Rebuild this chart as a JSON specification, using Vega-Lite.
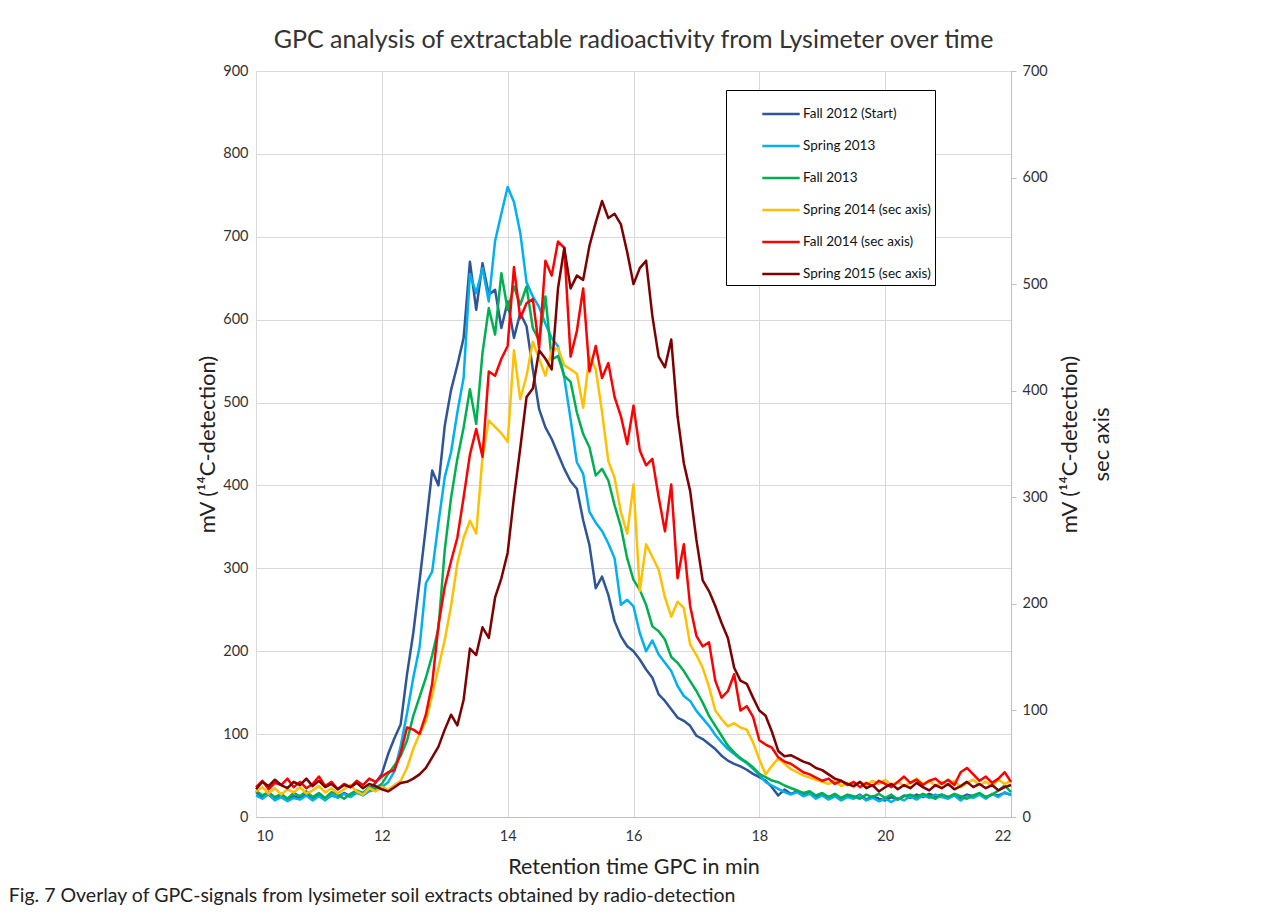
{
"$schema": "https://vega.github.io/schema/vega-lite/v6.json",
"background": "white",
"padding": {"left": 8, "top": 28, "right": 5, "bottom": 5},
"config": {"font": "Lato", "view": {"stroke": null}},
"title": {"text": "Fig. 7  Overlay of GPC-signals from lysimeter soil extracts obtained by radio-detection", "orient": "bottom", "anchor": "start", "frame": "bounds", "dx": -188, "fontSize": 19.5, "fontWeight": "normal", "font": "Liberation Sans Narrow, Lato", "color": "#222", "offset": 9},
"datasets": {
"fall2012": [{"t":10.0,"mV":30},{"t":10.1,"mV":24},{"t":10.2,"mV":27},{"t":10.3,"mV":21},{"t":10.4,"mV":26},{"t":10.5,"mV":20},{"t":10.6,"mV":25},{"t":10.7,"mV":22},{"t":10.8,"mV":28},{"t":10.9,"mV":23},{"t":11.0,"mV":27},{"t":11.1,"mV":21},{"t":11.2,"mV":26},{"t":11.3,"mV":24},{"t":11.4,"mV":29},{"t":11.5,"mV":25},{"t":11.6,"mV":30},{"t":11.7,"mV":28},{"t":11.8,"mV":34},{"t":11.9,"mV":41},{"t":12.0,"mV":52},{"t":12.1,"mV":76},{"t":12.2,"mV":95},{"t":12.3,"mV":112},{"t":12.4,"mV":172},{"t":12.5,"mV":222},{"t":12.6,"mV":285},{"t":12.7,"mV":350},{"t":12.8,"mV":418},{"t":12.9,"mV":400},{"t":13.0,"mV":472},{"t":13.1,"mV":515},{"t":13.2,"mV":545},{"t":13.3,"mV":578},{"t":13.4,"mV":670},{"t":13.5,"mV":612},{"t":13.6,"mV":668},{"t":13.7,"mV":630},{"t":13.8,"mV":636},{"t":13.9,"mV":590},{"t":14.0,"mV":622},{"t":14.1,"mV":578},{"t":14.2,"mV":608},{"t":14.3,"mV":592},{"t":14.4,"mV":540},{"t":14.5,"mV":492},{"t":14.6,"mV":470},{"t":14.7,"mV":456},{"t":14.8,"mV":438},{"t":14.9,"mV":420},{"t":15.0,"mV":405},{"t":15.1,"mV":396},{"t":15.2,"mV":358},{"t":15.3,"mV":328},{"t":15.4,"mV":276},{"t":15.5,"mV":290},{"t":15.6,"mV":268},{"t":15.7,"mV":236},{"t":15.8,"mV":218},{"t":15.9,"mV":206},{"t":16.0,"mV":200},{"t":16.1,"mV":190},{"t":16.2,"mV":178},{"t":16.3,"mV":168},{"t":16.4,"mV":148},{"t":16.5,"mV":140},{"t":16.6,"mV":130},{"t":16.7,"mV":120},{"t":16.8,"mV":116},{"t":16.9,"mV":110},{"t":17.0,"mV":98},{"t":17.1,"mV":94},{"t":17.2,"mV":88},{"t":17.3,"mV":82},{"t":17.4,"mV":74},{"t":17.5,"mV":68},{"t":17.6,"mV":64},{"t":17.7,"mV":61},{"t":17.8,"mV":57},{"t":17.9,"mV":52},{"t":18.0,"mV":48},{"t":18.1,"mV":44},{"t":18.2,"mV":36},{"t":18.3,"mV":26},{"t":18.4,"mV":33},{"t":18.5,"mV":28},{"t":18.6,"mV":31},{"t":18.7,"mV":26},{"t":18.8,"mV":29},{"t":18.9,"mV":25},{"t":19.0,"mV":28},{"t":19.1,"mV":24},{"t":19.2,"mV":27},{"t":19.3,"mV":22},{"t":19.4,"mV":26},{"t":19.5,"mV":23},{"t":19.6,"mV":27},{"t":19.7,"mV":21},{"t":19.8,"mV":25},{"t":19.9,"mV":22},{"t":20.0,"mV":20},{"t":20.1,"mV":24},{"t":20.2,"mV":21},{"t":20.3,"mV":26},{"t":20.4,"mV":23},{"t":20.5,"mV":27},{"t":20.6,"mV":24},{"t":20.7,"mV":28},{"t":20.8,"mV":25},{"t":20.9,"mV":27},{"t":21.0,"mV":24},{"t":21.1,"mV":26},{"t":21.2,"mV":23},{"t":21.3,"mV":27},{"t":21.4,"mV":25},{"t":21.5,"mV":28},{"t":21.6,"mV":24},{"t":21.7,"mV":27},{"t":21.8,"mV":26},{"t":21.9,"mV":29},{"t":22.0,"mV":27}],
"spring2013": [{"t":10.0,"mV":26},{"t":10.1,"mV":22},{"t":10.2,"mV":28},{"t":10.3,"mV":20},{"t":10.4,"mV":24},{"t":10.5,"mV":19},{"t":10.6,"mV":23},{"t":10.7,"mV":21},{"t":10.8,"mV":26},{"t":10.9,"mV":20},{"t":11.0,"mV":25},{"t":11.1,"mV":20},{"t":11.2,"mV":27},{"t":11.3,"mV":23},{"t":11.4,"mV":28},{"t":11.5,"mV":24},{"t":11.6,"mV":29},{"t":11.7,"mV":26},{"t":11.8,"mV":31},{"t":11.9,"mV":33},{"t":12.0,"mV":36},{"t":12.1,"mV":42},{"t":12.2,"mV":55},{"t":12.3,"mV":86},{"t":12.4,"mV":125},{"t":12.5,"mV":168},{"t":12.6,"mV":205},{"t":12.7,"mV":282},{"t":12.8,"mV":296},{"t":12.9,"mV":355},{"t":13.0,"mV":410},{"t":13.1,"mV":440},{"t":13.2,"mV":488},{"t":13.3,"mV":530},{"t":13.4,"mV":655},{"t":13.5,"mV":632},{"t":13.6,"mV":662},{"t":13.7,"mV":622},{"t":13.8,"mV":695},{"t":13.9,"mV":728},{"t":14.0,"mV":760},{"t":14.1,"mV":742},{"t":14.2,"mV":705},{"t":14.3,"mV":645},{"t":14.4,"mV":628},{"t":14.5,"mV":615},{"t":14.6,"mV":595},{"t":14.7,"mV":578},{"t":14.8,"mV":568},{"t":14.9,"mV":530},{"t":15.0,"mV":480},{"t":15.1,"mV":428},{"t":15.2,"mV":414},{"t":15.3,"mV":368},{"t":15.4,"mV":355},{"t":15.5,"mV":345},{"t":15.6,"mV":330},{"t":15.7,"mV":312},{"t":15.8,"mV":256},{"t":15.9,"mV":262},{"t":16.0,"mV":254},{"t":16.1,"mV":222},{"t":16.2,"mV":200},{"t":16.3,"mV":213},{"t":16.4,"mV":196},{"t":16.5,"mV":186},{"t":16.6,"mV":176},{"t":16.7,"mV":158},{"t":16.8,"mV":146},{"t":16.9,"mV":140},{"t":17.0,"mV":128},{"t":17.1,"mV":119},{"t":17.2,"mV":110},{"t":17.3,"mV":99},{"t":17.4,"mV":90},{"t":17.5,"mV":82},{"t":17.6,"mV":76},{"t":17.7,"mV":70},{"t":17.8,"mV":65},{"t":17.9,"mV":58},{"t":18.0,"mV":51},{"t":18.1,"mV":42},{"t":18.2,"mV":38},{"t":18.3,"mV":34},{"t":18.4,"mV":30},{"t":18.5,"mV":27},{"t":18.6,"mV":30},{"t":18.7,"mV":25},{"t":18.8,"mV":28},{"t":18.9,"mV":22},{"t":19.0,"mV":26},{"t":19.1,"mV":21},{"t":19.2,"mV":25},{"t":19.3,"mV":20},{"t":19.4,"mV":24},{"t":19.5,"mV":22},{"t":19.6,"mV":26},{"t":19.7,"mV":20},{"t":19.8,"mV":23},{"t":19.9,"mV":19},{"t":20.0,"mV":22},{"t":20.1,"mV":18},{"t":20.2,"mV":23},{"t":20.3,"mV":20},{"t":20.4,"mV":25},{"t":20.5,"mV":21},{"t":20.6,"mV":26},{"t":20.7,"mV":23},{"t":20.8,"mV":27},{"t":20.9,"mV":24},{"t":21.0,"mV":22},{"t":21.1,"mV":26},{"t":21.2,"mV":20},{"t":21.3,"mV":25},{"t":21.4,"mV":23},{"t":21.5,"mV":27},{"t":21.6,"mV":22},{"t":21.7,"mV":28},{"t":21.8,"mV":24},{"t":21.9,"mV":30},{"t":22.0,"mV":26}],
"fall2013": [{"t":10.0,"mV":32},{"t":10.1,"mV":26},{"t":10.2,"mV":30},{"t":10.3,"mV":24},{"t":10.4,"mV":28},{"t":10.5,"mV":22},{"t":10.6,"mV":29},{"t":10.7,"mV":25},{"t":10.8,"mV":31},{"t":10.9,"mV":24},{"t":11.0,"mV":29},{"t":11.1,"mV":23},{"t":11.2,"mV":30},{"t":11.3,"mV":27},{"t":11.4,"mV":22},{"t":11.5,"mV":28},{"t":11.6,"mV":32},{"t":11.7,"mV":29},{"t":11.8,"mV":36},{"t":11.9,"mV":35},{"t":12.0,"mV":40},{"t":12.1,"mV":52},{"t":12.2,"mV":62},{"t":12.3,"mV":74},{"t":12.4,"mV":92},{"t":12.5,"mV":122},{"t":12.6,"mV":145},{"t":12.7,"mV":168},{"t":12.8,"mV":195},{"t":12.9,"mV":228},{"t":13.0,"mV":322},{"t":13.1,"mV":385},{"t":13.2,"mV":432},{"t":13.3,"mV":470},{"t":13.4,"mV":516},{"t":13.5,"mV":474},{"t":13.6,"mV":560},{"t":13.7,"mV":614},{"t":13.8,"mV":582},{"t":13.9,"mV":656},{"t":14.0,"mV":612},{"t":14.1,"mV":640},{"t":14.2,"mV":618},{"t":14.3,"mV":640},{"t":14.4,"mV":590},{"t":14.5,"mV":575},{"t":14.6,"mV":628},{"t":14.7,"mV":552},{"t":14.8,"mV":556},{"t":14.9,"mV":532},{"t":15.0,"mV":525},{"t":15.1,"mV":488},{"t":15.2,"mV":462},{"t":15.3,"mV":446},{"t":15.4,"mV":412},{"t":15.5,"mV":420},{"t":15.6,"mV":406},{"t":15.7,"mV":376},{"t":15.8,"mV":350},{"t":15.9,"mV":312},{"t":16.0,"mV":286},{"t":16.1,"mV":274},{"t":16.2,"mV":256},{"t":16.3,"mV":230},{"t":16.4,"mV":224},{"t":16.5,"mV":214},{"t":16.6,"mV":193},{"t":16.7,"mV":186},{"t":16.8,"mV":176},{"t":16.9,"mV":164},{"t":17.0,"mV":152},{"t":17.1,"mV":138},{"t":17.2,"mV":122},{"t":17.3,"mV":110},{"t":17.4,"mV":98},{"t":17.5,"mV":86},{"t":17.6,"mV":78},{"t":17.7,"mV":71},{"t":17.8,"mV":66},{"t":17.9,"mV":60},{"t":18.0,"mV":52},{"t":18.1,"mV":48},{"t":18.2,"mV":44},{"t":18.3,"mV":42},{"t":18.4,"mV":38},{"t":18.5,"mV":35},{"t":18.6,"mV":32},{"t":18.7,"mV":29},{"t":18.8,"mV":31},{"t":18.9,"mV":26},{"t":19.0,"mV":29},{"t":19.1,"mV":24},{"t":19.2,"mV":28},{"t":19.3,"mV":23},{"t":19.4,"mV":27},{"t":19.5,"mV":25},{"t":19.6,"mV":22},{"t":19.7,"mV":27},{"t":19.8,"mV":24},{"t":19.9,"mV":28},{"t":20.0,"mV":23},{"t":20.1,"mV":27},{"t":20.2,"mV":21},{"t":20.3,"mV":25},{"t":20.4,"mV":27},{"t":20.5,"mV":24},{"t":20.6,"mV":28},{"t":20.7,"mV":25},{"t":20.8,"mV":22},{"t":20.9,"mV":27},{"t":21.0,"mV":24},{"t":21.1,"mV":28},{"t":21.2,"mV":25},{"t":21.3,"mV":22},{"t":21.4,"mV":26},{"t":21.5,"mV":29},{"t":21.6,"mV":24},{"t":21.7,"mV":27},{"t":21.8,"mV":32},{"t":21.9,"mV":38},{"t":22.0,"mV":30}],
"spring2014": [{"t":10.0,"mV":24},{"t":10.1,"mV":28},{"t":10.2,"mV":22},{"t":10.3,"mV":27},{"t":10.4,"mV":21},{"t":10.5,"mV":26},{"t":10.6,"mV":23},{"t":10.7,"mV":28},{"t":10.8,"mV":22},{"t":10.9,"mV":25},{"t":11.0,"mV":29},{"t":11.1,"mV":23},{"t":11.2,"mV":27},{"t":11.3,"mV":22},{"t":11.4,"mV":26},{"t":11.5,"mV":30},{"t":11.6,"mV":24},{"t":11.7,"mV":21},{"t":11.8,"mV":27},{"t":11.9,"mV":24},{"t":12.0,"mV":28},{"t":12.1,"mV":26},{"t":12.2,"mV":30},{"t":12.3,"mV":34},{"t":12.4,"mV":46},{"t":12.5,"mV":64},{"t":12.6,"mV":78},{"t":12.7,"mV":90},{"t":12.8,"mV":114},{"t":12.9,"mV":140},{"t":13.0,"mV":166},{"t":13.1,"mV":198},{"t":13.2,"mV":238},{"t":13.3,"mV":262},{"t":13.4,"mV":278},{"t":13.5,"mV":266},{"t":13.6,"mV":338},{"t":13.7,"mV":372},{"t":13.8,"mV":366},{"t":13.9,"mV":360},{"t":14.0,"mV":352},{"t":14.1,"mV":438},{"t":14.2,"mV":392},{"t":14.3,"mV":414},{"t":14.4,"mV":446},{"t":14.5,"mV":430},{"t":14.6,"mV":414},{"t":14.7,"mV":438},{"t":14.8,"mV":440},{"t":14.9,"mV":424},{"t":15.0,"mV":420},{"t":15.1,"mV":416},{"t":15.2,"mV":384},{"t":15.3,"mV":432},{"t":15.4,"mV":420},{"t":15.5,"mV":380},{"t":15.6,"mV":334},{"t":15.7,"mV":318},{"t":15.8,"mV":286},{"t":15.9,"mV":266},{"t":16.0,"mV":312},{"t":16.1,"mV":212},{"t":16.2,"mV":256},{"t":16.3,"mV":244},{"t":16.4,"mV":232},{"t":16.5,"mV":206},{"t":16.6,"mV":188},{"t":16.7,"mV":202},{"t":16.8,"mV":196},{"t":16.9,"mV":162},{"t":17.0,"mV":152},{"t":17.1,"mV":140},{"t":17.2,"mV":122},{"t":17.3,"mV":100},{"t":17.4,"mV":92},{"t":17.5,"mV":85},{"t":17.6,"mV":88},{"t":17.7,"mV":84},{"t":17.8,"mV":82},{"t":17.9,"mV":70},{"t":18.0,"mV":54},{"t":18.1,"mV":40},{"t":18.2,"mV":48},{"t":18.3,"mV":55},{"t":18.4,"mV":50},{"t":18.5,"mV":45},{"t":18.6,"mV":42},{"t":18.7,"mV":39},{"t":18.8,"mV":37},{"t":18.9,"mV":35},{"t":19.0,"mV":33},{"t":19.1,"mV":31},{"t":19.2,"mV":34},{"t":19.3,"mV":29},{"t":19.4,"mV":32},{"t":19.5,"mV":28},{"t":19.6,"mV":33},{"t":19.7,"mV":30},{"t":19.8,"mV":34},{"t":19.9,"mV":31},{"t":20.0,"mV":35},{"t":20.1,"mV":30},{"t":20.2,"mV":33},{"t":20.3,"mV":29},{"t":20.4,"mV":32},{"t":20.5,"mV":36},{"t":20.6,"mV":31},{"t":20.7,"mV":34},{"t":20.8,"mV":29},{"t":20.9,"mV":33},{"t":21.0,"mV":30},{"t":21.1,"mV":34},{"t":21.2,"mV":28},{"t":21.3,"mV":32},{"t":21.4,"mV":35},{"t":21.5,"mV":30},{"t":21.6,"mV":33},{"t":21.7,"mV":29},{"t":21.8,"mV":35},{"t":21.9,"mV":31},{"t":22.0,"mV":34}],
"fall2014": [{"t":10.0,"mV":28},{"t":10.1,"mV":34},{"t":10.2,"mV":26},{"t":10.3,"mV":32},{"t":10.4,"mV":30},{"t":10.5,"mV":36},{"t":10.6,"mV":28},{"t":10.7,"mV":33},{"t":10.8,"mV":27},{"t":10.9,"mV":31},{"t":11.0,"mV":38},{"t":11.1,"mV":29},{"t":11.2,"mV":33},{"t":11.3,"mV":26},{"t":11.4,"mV":31},{"t":11.5,"mV":28},{"t":11.6,"mV":34},{"t":11.7,"mV":30},{"t":11.8,"mV":36},{"t":11.9,"mV":33},{"t":12.0,"mV":38},{"t":12.1,"mV":42},{"t":12.2,"mV":44},{"t":12.3,"mV":60},{"t":12.4,"mV":84},{"t":12.5,"mV":82},{"t":12.6,"mV":78},{"t":12.7,"mV":96},{"t":12.8,"mV":125},{"t":12.9,"mV":180},{"t":13.0,"mV":216},{"t":13.1,"mV":240},{"t":13.2,"mV":262},{"t":13.3,"mV":300},{"t":13.4,"mV":340},{"t":13.5,"mV":364},{"t":13.6,"mV":338},{"t":13.7,"mV":418},{"t":13.8,"mV":414},{"t":13.9,"mV":430},{"t":14.0,"mV":442},{"t":14.1,"mV":516},{"t":14.2,"mV":468},{"t":14.3,"mV":482},{"t":14.4,"mV":486},{"t":14.5,"mV":440},{"t":14.6,"mV":522},{"t":14.7,"mV":508},{"t":14.8,"mV":540},{"t":14.9,"mV":534},{"t":15.0,"mV":432},{"t":15.1,"mV":456},{"t":15.2,"mV":496},{"t":15.3,"mV":418},{"t":15.4,"mV":442},{"t":15.5,"mV":412},{"t":15.6,"mV":426},{"t":15.7,"mV":394},{"t":15.8,"mV":376},{"t":15.9,"mV":350},{"t":16.0,"mV":386},{"t":16.1,"mV":344},{"t":16.2,"mV":330},{"t":16.3,"mV":336},{"t":16.4,"mV":300},{"t":16.5,"mV":268},{"t":16.6,"mV":312},{"t":16.7,"mV":224},{"t":16.8,"mV":256},{"t":16.9,"mV":198},{"t":17.0,"mV":170},{"t":17.1,"mV":160},{"t":17.2,"mV":164},{"t":17.3,"mV":128},{"t":17.4,"mV":112},{"t":17.5,"mV":118},{"t":17.6,"mV":134},{"t":17.7,"mV":100},{"t":17.8,"mV":104},{"t":17.9,"mV":94},{"t":18.0,"mV":72},{"t":18.1,"mV":68},{"t":18.2,"mV":65},{"t":18.3,"mV":56},{"t":18.4,"mV":52},{"t":18.5,"mV":50},{"t":18.6,"mV":46},{"t":18.7,"mV":42},{"t":18.8,"mV":40},{"t":18.9,"mV":37},{"t":19.0,"mV":34},{"t":19.1,"mV":36},{"t":19.2,"mV":31},{"t":19.3,"mV":34},{"t":19.4,"mV":30},{"t":19.5,"mV":33},{"t":19.6,"mV":28},{"t":19.7,"mV":32},{"t":19.8,"mV":29},{"t":19.9,"mV":34},{"t":20.0,"mV":31},{"t":20.1,"mV":28},{"t":20.2,"mV":33},{"t":20.3,"mV":38},{"t":20.4,"mV":32},{"t":20.5,"mV":35},{"t":20.6,"mV":30},{"t":20.7,"mV":34},{"t":20.8,"mV":36},{"t":20.9,"mV":31},{"t":21.0,"mV":35},{"t":21.1,"mV":30},{"t":21.2,"mV":42},{"t":21.3,"mV":46},{"t":21.4,"mV":40},{"t":21.5,"mV":34},{"t":21.6,"mV":38},{"t":21.7,"mV":32},{"t":21.8,"mV":36},{"t":21.9,"mV":42},{"t":22.0,"mV":33}],
"spring2015": [{"t":10.0,"mV":26},{"t":10.1,"mV":33},{"t":10.2,"mV":29},{"t":10.3,"mV":35},{"t":10.4,"mV":30},{"t":10.5,"mV":27},{"t":10.6,"mV":33},{"t":10.7,"mV":30},{"t":10.8,"mV":36},{"t":10.9,"mV":29},{"t":11.0,"mV":34},{"t":11.1,"mV":28},{"t":11.2,"mV":31},{"t":11.3,"mV":26},{"t":11.4,"mV":30},{"t":11.5,"mV":28},{"t":11.6,"mV":32},{"t":11.7,"mV":27},{"t":11.8,"mV":31},{"t":11.9,"mV":29},{"t":12.0,"mV":26},{"t":12.1,"mV":24},{"t":12.2,"mV":28},{"t":12.3,"mV":32},{"t":12.4,"mV":33},{"t":12.5,"mV":36},{"t":12.6,"mV":40},{"t":12.7,"mV":46},{"t":12.8,"mV":56},{"t":12.9,"mV":66},{"t":13.0,"mV":82},{"t":13.1,"mV":96},{"t":13.2,"mV":86},{"t":13.3,"mV":110},{"t":13.4,"mV":158},{"t":13.5,"mV":152},{"t":13.6,"mV":178},{"t":13.7,"mV":168},{"t":13.8,"mV":206},{"t":13.9,"mV":224},{"t":14.0,"mV":248},{"t":14.1,"mV":300},{"t":14.2,"mV":346},{"t":14.3,"mV":394},{"t":14.4,"mV":402},{"t":14.5,"mV":438},{"t":14.6,"mV":430},{"t":14.7,"mV":420},{"t":14.8,"mV":496},{"t":14.9,"mV":534},{"t":15.0,"mV":496},{"t":15.1,"mV":508},{"t":15.2,"mV":504},{"t":15.3,"mV":536},{"t":15.4,"mV":558},{"t":15.5,"mV":578},{"t":15.6,"mV":562},{"t":15.7,"mV":566},{"t":15.8,"mV":556},{"t":15.9,"mV":530},{"t":16.0,"mV":500},{"t":16.1,"mV":515},{"t":16.2,"mV":522},{"t":16.3,"mV":470},{"t":16.4,"mV":432},{"t":16.5,"mV":422},{"t":16.6,"mV":448},{"t":16.7,"mV":376},{"t":16.8,"mV":332},{"t":16.9,"mV":306},{"t":17.0,"mV":260},{"t":17.1,"mV":222},{"t":17.2,"mV":212},{"t":17.3,"mV":198},{"t":17.4,"mV":182},{"t":17.5,"mV":168},{"t":17.6,"mV":140},{"t":17.7,"mV":128},{"t":17.8,"mV":125},{"t":17.9,"mV":112},{"t":18.0,"mV":100},{"t":18.1,"mV":95},{"t":18.2,"mV":80},{"t":18.3,"mV":62},{"t":18.4,"mV":57},{"t":18.5,"mV":58},{"t":18.6,"mV":55},{"t":18.7,"mV":52},{"t":18.8,"mV":50},{"t":18.9,"mV":46},{"t":19.0,"mV":44},{"t":19.1,"mV":40},{"t":19.2,"mV":36},{"t":19.3,"mV":34},{"t":19.4,"mV":31},{"t":19.5,"mV":29},{"t":19.6,"mV":33},{"t":19.7,"mV":27},{"t":19.8,"mV":30},{"t":19.9,"mV":24},{"t":20.0,"mV":28},{"t":20.1,"mV":31},{"t":20.2,"mV":26},{"t":20.3,"mV":30},{"t":20.4,"mV":27},{"t":20.5,"mV":32},{"t":20.6,"mV":28},{"t":20.7,"mV":25},{"t":20.8,"mV":30},{"t":20.9,"mV":27},{"t":21.0,"mV":31},{"t":21.1,"mV":26},{"t":21.2,"mV":29},{"t":21.3,"mV":33},{"t":21.4,"mV":28},{"t":21.5,"mV":31},{"t":21.6,"mV":27},{"t":21.7,"mV":30},{"t":21.8,"mV":25},{"t":21.9,"mV":28},{"t":22.0,"mV":30}]
},
"vconcat": [{
"title": {"text": "GPC analysis of extractable radioactivity from Lysimeter over time", "fontSize": 25, "fontWeight": "normal", "font": "Lato", "color": "#333", "frame": "group", "offset": 10},
"width": 755,
"height": 746,
"layer": [
{"layer": [
{"data": {"name": "fall2012"}, "mark": {"type": "line", "strokeWidth": 2.5, "strokeJoin": "round"},
 "encoding": {
  "x": {"field": "t", "type": "quantitative", "scale": {"domain": [10, 22], "nice": false},
        "axis": {"values": [10,12,14,16,18,20,22], "format": "d", "title": "Retention time GPC in min", "grid": true, "gridColor": "#d9d9d9", "domainColor": "#bfbfbf", "ticks": false, "labelPadding": 12, "labelFontSize": 14.5, "labelColor": "#333", "titleFontSize": 21.5, "titleFontWeight": "normal", "titleColor": "#222", "titlePadding": 14}},
  "y": {"field": "mV", "type": "quantitative", "scale": {"domain": [0, 900], "nice": false},
        "axis": {"orient": "left", "values": [0,100,200,300,400,500,600,700,800,900], "title": "mV (¹⁴C-detection)", "grid": true, "gridColor": "#d9d9d9", "domain": false, "ticks": false, "labelPadding": 8, "labelFontSize": 14.5, "labelColor": "#333", "titleFontSize": 22, "titleFontWeight": "normal", "titleColor": "#222", "titlePadding": 3}},
  "color": {"datum": "Fall 2012 (Start)", "type": "nominal",
        "scale": {"domain": ["Fall 2012 (Start)", "Spring 2013", "Fall 2013", "Spring 2014 (sec axis)", "Fall 2014 (sec axis)", "Spring 2015 (sec axis)"], "range": ["#2F5597", "#00B0F0", "#00B050", "#FFC000", "#FF0000", "#7F0000"]},
        "legend": {"orient": "none", "legendX": 470, "legendY": 19, "title": null, "strokeColor": "#000", "fillColor": "#fff", "padding": 4, "symbolType": "stroke", "symbolStrokeWidth": 2.5, "symbolSize": 1400, "symbolOffset": 31, "labelFontSize": 13.5, "labelColor": "#111", "labelOffset": 2, "labelLimit": 400, "rowPadding": 5, "labelExpr": "datum.label + '\u00a0\u00a0\u00a0\u00a0\u00a0\u00a0\u00a0\u00a0\u00a0\u00a0\u00a0\u00a0\u00a0\u00a0'"}}
 }},
{"data": {"name": "spring2013"}, "mark": {"type": "line", "strokeWidth": 2.5, "strokeJoin": "round"},
 "encoding": {"x": {"field": "t", "type": "quantitative"}, "y": {"field": "mV", "type": "quantitative"}, "color": {"datum": "Spring 2013", "type": "nominal"}}},
{"data": {"name": "fall2013"}, "mark": {"type": "line", "strokeWidth": 2.5, "strokeJoin": "round"},
 "encoding": {"x": {"field": "t", "type": "quantitative"}, "y": {"field": "mV", "type": "quantitative"}, "color": {"datum": "Fall 2013", "type": "nominal"}}}
]},
{"layer": [
{"data": {"name": "spring2014"}, "mark": {"type": "line", "strokeWidth": 2.5, "strokeJoin": "round"},
 "encoding": {"x": {"field": "t", "type": "quantitative"},
  "y": {"field": "mV", "type": "quantitative", "scale": {"domain": [0, 700], "nice": false},
        "axis": {"orient": "right", "values": [0,100,200,300,400,500,600,700], "title": ["mV (¹⁴C-detection)", "sec axis"], "titleAngle": 270, "titleBaseline": "top", "titleLineHeight": 32, "grid": false, "domain": true, "domainColor": "#bfbfbf", "ticks": true, "tickColor": "#bfbfbf", "tickSize": 5, "labelPadding": 6, "labelFontSize": 14.5, "labelColor": "#333", "titleFontSize": 22, "titleFontWeight": "normal", "titleColor": "#222", "titlePadding": -20}},
  "color": {"datum": "Spring 2014 (sec axis)", "type": "nominal"}}},
{"data": {"name": "fall2014"}, "mark": {"type": "line", "strokeWidth": 2.5, "strokeJoin": "round"},
 "encoding": {"x": {"field": "t", "type": "quantitative"}, "y": {"field": "mV", "type": "quantitative"}, "color": {"datum": "Fall 2014 (sec axis)", "type": "nominal"}}},
{"data": {"name": "spring2015"}, "mark": {"type": "line", "strokeWidth": 2.5, "strokeJoin": "round"},
 "encoding": {"x": {"field": "t", "type": "quantitative"}, "y": {"field": "mV", "type": "quantitative"}, "color": {"datum": "Spring 2015 (sec axis)", "type": "nominal"}}}
]}
],
"resolve": {"scale": {"y": "independent"}, "axis": {"y": "independent"}}
}]
}
